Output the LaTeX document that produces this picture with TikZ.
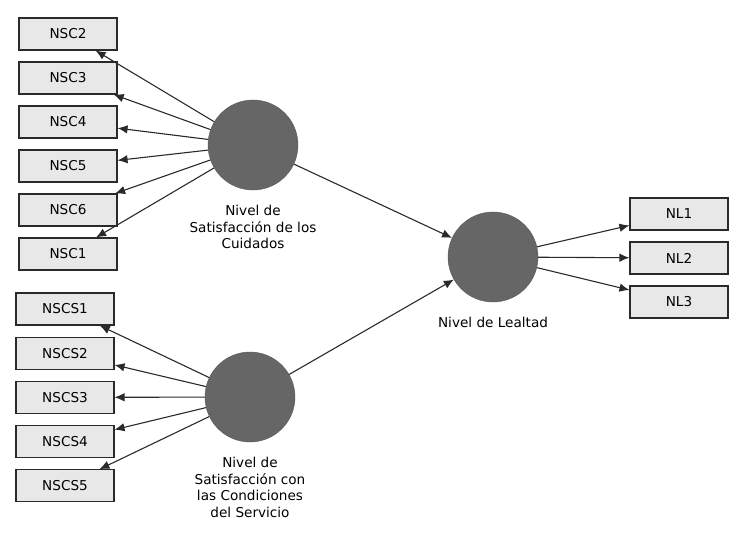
\documentclass[tikz,border=0pt]{standalone}
\usepackage{fontspec}
\setmainfont{DejaVu Sans}
\usetikzlibrary{arrows.meta,positioning}

\definecolor{boxfill}{HTML}{E8E8E8}
\definecolor{latfill}{HTML}{666666}
\definecolor{linecol}{HTML}{2A2A2A}

\tikzset{
	ind/.style = {draw=linecol, line width=1.1pt, fill=boxfill, minimum width=98pt, minimum height=32pt, inner sep=0pt, font=\fontsize{13.6}{16.5}\selectfont},
	lat/.style = {circle, fill=latfill, draw=latfill!85!black, minimum size=90pt, inner sep=0pt},
	lbl/.style = {align=center, inner sep=0pt, font=\fontsize{13.6}{16.5}\selectfont},
	link/.style = {draw=linecol, line width=1.1pt, -{Latex[length=10pt,width=8.5pt]}}
}

\begin{document}
\begin{tikzpicture}[x=1pt, y=-1pt]
	\useasboundingbox (0,0) rectangle (737,538);
	% latent variables
	\node[lat] (sc) at (253,145) {};
	\node[lat] (scs) at (250,397) {};
	\node[lat] (lea) at (493,257) {};
	\node[lbl, below=15pt of sc] {Nivel de\\Satisfacción de los\\Cuidados};
	\node[lbl, below=15pt of scs] {Nivel de\\Satisfacción con\\las Condiciones\\del Servicio};
	\node[lbl, below=15pt of lea] {Nivel de Lealtad};
	% indicators
	\foreach \n [count=\i from 0] in {NSC2,NSC3,NSC4,NSC5,NSC6,NSC1}
		\node[ind] (\n) at (68,34+44*\i) {\n};
	\foreach \n [count=\i from 0] in {NSCS1,NSCS2,NSCS3,NSCS4,NSCS5}
		\node[ind] (\n) at (65,309+44.2*\i) {\n};
	\foreach \n [count=\i from 0] in {NL1,NL2,NL3}
		\node[ind] (\n) at (679,214+44*\i) {\n};
	% paths
	\foreach \n in {NSC2,NSC3,NSC4,NSC5,NSC6,NSC1}
		\draw[link] (sc) -- (\n);
	\foreach \n in {NSCS1,NSCS2,NSCS3,NSCS4,NSCS5}
		\draw[link] (scs) -- (\n);
	\foreach \n in {NL1,NL2,NL3}
		\draw[link] (lea) -- (\n);
	\draw[link] (sc) -- (lea);
	\draw[link] (scs) -- (lea);
\end{tikzpicture}
\end{document}
